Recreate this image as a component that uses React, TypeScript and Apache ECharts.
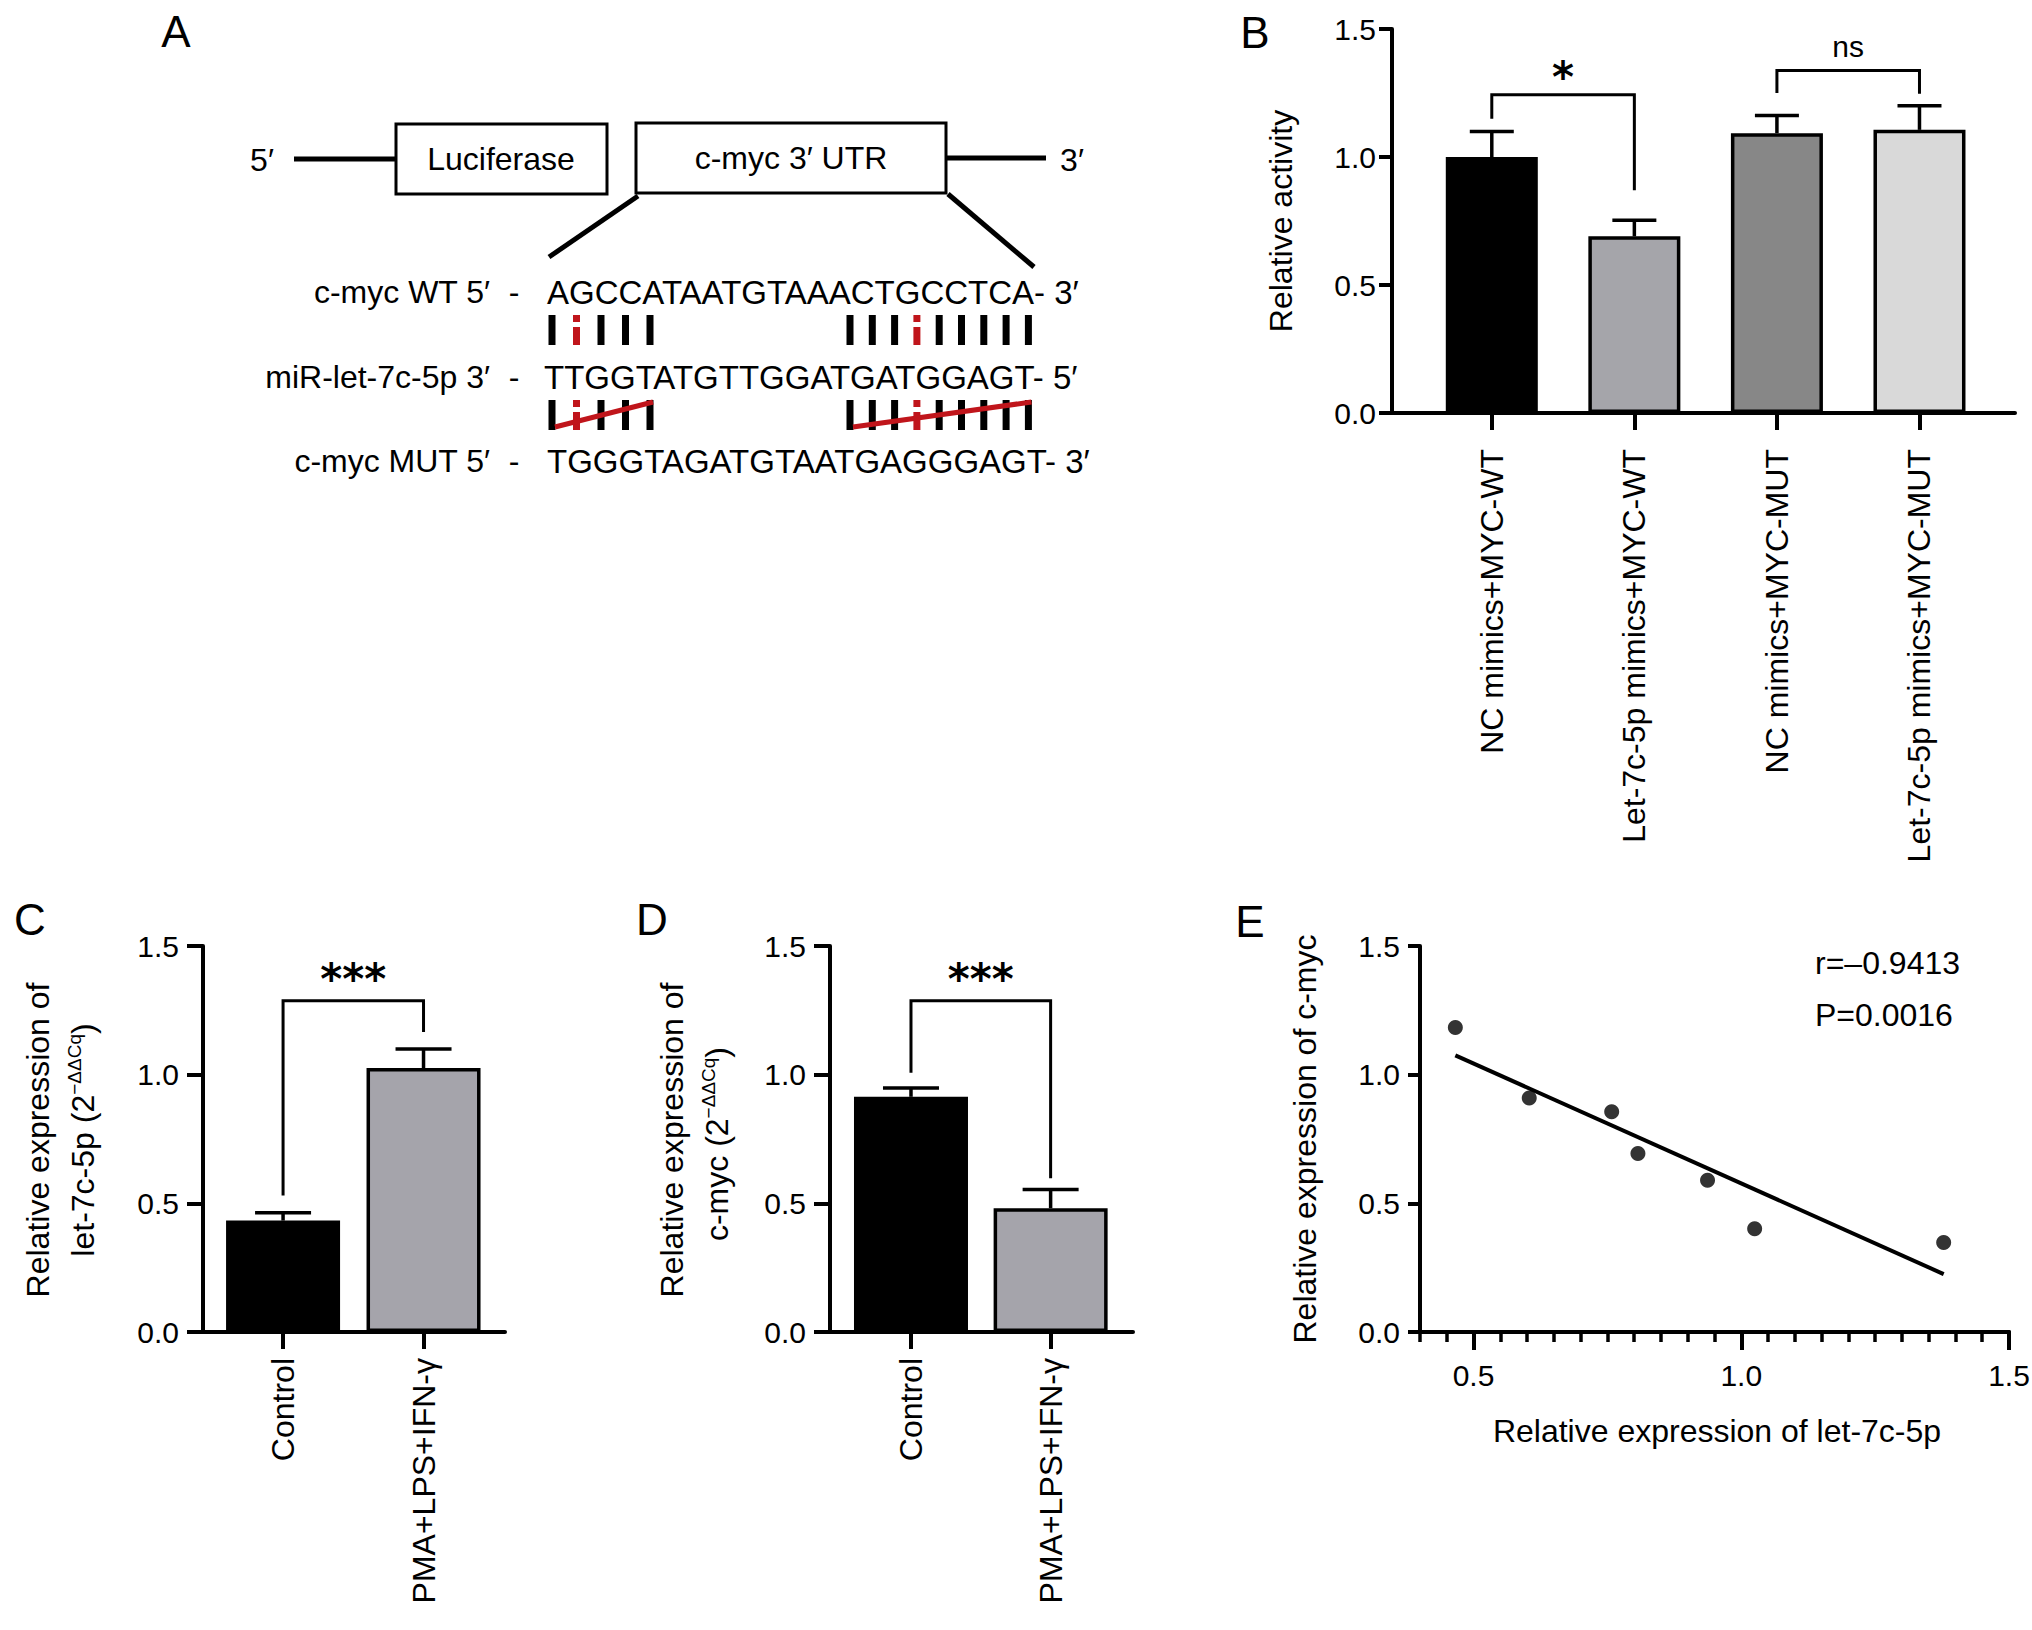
import React, { useEffect, useRef } from 'react';
import * as echarts from 'echarts';

const W = 2032;
const H = 1630;
const FONT = '"Liberation Sans", Arial, Helvetica, sans-serif';
const STAR_FONT = '"DejaVu Sans", "Liberation Sans", sans-serif';

// ---------- Panel A (schematic) ----------
const aSeqLabels = ['c-myc WT 5′', 'miR-let-7c-5p 3′', 'c-myc MUT 5′'];
const aSequences = ['AGCCATAATGTAAACTGCCTCA- 3′', 'TTGGTATGTTGGATGATGGAGT- 5′', 'TGGGTAGATGTAATGAGGGAGT- 3′'];
const aBoxLabels = ['Luciferase', 'c-myc 3′ UTR'];
const aPairCounts = [5, 9];
const aWobbleIndex = [1, 3];

// ---------- Panel B ----------
const bCategories = ['NC mimics+MYC-WT', 'Let-7c-5p mimics+MYC-WT', 'NC mimics+MYC-MUT', 'Let-7c-5p mimics+MYC-MUT'];
const bMeans = [1.0, 0.69, 1.093, 1.106];
const bErrTops = [1.10, 0.753, 1.162, 1.20];
const bColors = ['#000000', '#a5a5aa', '#878787', '#d9d9d9'];
const bBrackets = [[0, 1, 1.243, 1.149, 0.87], [2, 3, 1.338, 1.25, 1.247]];
const bSigLabels = ['*', 'ns'];
const bSigY = [1.31, 1.43];

// ---------- Panels C & D ----------
const cdCategories = ['Control', 'PMA+LPS+IFN-γ'];
const cdColors = ['#000000', '#a5a4ab'];
const cMeans = [0.433, 1.026];
const cErrTops = [0.463, 1.10];
const cBrackets = [[0, 1, 1.287, 0.53, 1.166]];
const dMeans = [0.914, 0.481];
const dErrTops = [0.948, 0.554];
const dBrackets = [[0, 1, 1.287, 1.007, 0.597]];
const cdSigLabels = ['***'];
const cdSigY = [1.37];

// ---------- Panel E ----------
const eX = [0.466, 0.604, 0.758, 0.807, 0.937, 1.025, 1.378];
const eY = [1.183, 0.909, 0.856, 0.694, 0.590, 0.401, 0.348];
const eFit = [[0.466, 1.075], [1.378, 0.225]];
const eStats = ['r=–0.9413', 'P=0.0016'];
const eXTicks = [0.5, 1.0, 1.5];

const yMin = 0;
const yMax = 1.5;
const yInterval = 0.5;

function txt(x: number, y: number, text: string, opts: any = {}) {
  return {
    type: 'text',
    x,
    y,
    rotation: opts.rotation || 0,
    silent: true,
    style: {
      text,
      fill: opts.fill || '#000',
      fontSize: opts.fontSize || 32,
      fontFamily: opts.fontFamily || FONT,
      fontWeight: opts.fontWeight || 'normal',
      align: opts.align || 'center',
      verticalAlign: opts.verticalAlign || 'middle',
      textAlign: opts.align || 'center',
      textVerticalAlign: opts.verticalAlign || 'middle',
      rich: opts.rich,
    },
  };
}

function ln(x1: number, y1: number, x2: number, y2: number, w: number, color = '#000') {
  return {
    type: 'line',
    silent: true,
    shape: { x1, y1, x2, y2 },
    style: { stroke: color, lineWidth: w },
  };
}

function buildPanelA(): any[] {
  const g: any[] = [];
  const RED = '#c0151b';
  // backbone
  g.push(ln(294, 159, 396, 159, 5));
  g.push(ln(946, 158, 1046, 158, 5));
  g.push({ type: 'rect', silent: true, shape: { x: 396, y: 124, width: 211, height: 70 }, style: { fill: '#fff', stroke: '#000', lineWidth: 3 } });
  g.push({ type: 'rect', silent: true, shape: { x: 636, y: 123, width: 310, height: 70 }, style: { fill: '#fff', stroke: '#000', lineWidth: 3 } });
  g.push(txt(501, 159, aBoxLabels[0], { fontSize: 32 }));
  g.push(txt(791, 158, aBoxLabels[1], { fontSize: 32 }));
  g.push(txt(262, 160, '5′', { fontSize: 32 }));
  g.push(txt(1072, 160, '3′', { fontSize: 32 }));
  // zoom lines
  g.push(ln(638, 196, 549, 257, 5));
  g.push(ln(948, 194, 1034, 267, 5));
  // sequences
  const rowY = [292, 377, 461];
  const seqX = [547, 544, 547];
  for (let i = 0; i < 3; i++) {
    g.push(txt(490, rowY[i], aSeqLabels[i], { align: 'right', fontSize: 32 }));
    g.push(txt(514, rowY[i], '-', { fontSize: 32 }));
    g.push(txt(seqX[i], rowY[i], aSequences[i], { align: 'left', fontSize: 33 }));
  }
  // pairing bars
  const groupStart = [552, 850];
  const groupPitch = [24.5, 22.3];
  const barRows = [[315, 345], [400, 430]];
  for (let r = 0; r < 2; r++) {
    const [y0, y1] = barRows[r];
    for (let gi = 0; gi < 2; gi++) {
      for (let k = 0; k < aPairCounts[gi]; k++) {
        const x = groupStart[gi] + k * groupPitch[gi];
        if (k === aWobbleIndex[gi]) {
          g.push(ln(x, y0, x, y0 + 7, 7, RED));
          g.push(ln(x, y0 + 12, x, y1, 7, RED));
        } else {
          g.push(ln(x, y0, x, y1, 7));
        }
      }
    }
  }
  // strike-through lines on mutant pairing
  for (let gi = 0; gi < 2; gi++) {
    const xs = groupStart[gi] + 3;
    const xe = groupStart[gi] + (aPairCounts[gi] - 1) * groupPitch[gi] + 3;
    g.push(ln(xs, 427, xe, 402, 5, RED));
  }
  g.push(txt(176, 31, 'A', { fontSize: 44 }));
  return g;
}

function valueYAxis(gridIndex: number, margin: number, tickLen: number, fontFamily = FONT, fontSize = 30) {
  return {
    type: 'value',
    gridIndex,
    position: 'left',
    min: yMin,
    max: yMax,
    interval: yInterval,
    axisLine: { show: true, onZero: false, lineStyle: { color: '#000', width: 4 } },
    axisTick: { show: true, inside: false, length: tickLen, lineStyle: { color: '#000', width: 4 } },
    axisLabel: { show: true, color: '#000', fontSize, fontFamily, margin, formatter: (v: number) => v.toFixed(1) },
    splitLine: { show: false },
  };
}

function catXAxis(gridIndex: number, min: number, max: number, cats: string[], margin: number, tickLen: number) {
  const idx = cats.map((_, i) => i);
  return {
    type: 'value',
    gridIndex,
    position: 'bottom',
    min,
    max,
    axisLine: { show: true, onZero: false, lineStyle: { color: '#000', width: 4 } },
    axisTick: { show: true, length: tickLen, customValues: idx, lineStyle: { color: '#000', width: 4 } },
    axisLabel: {
      show: true,
      customValues: idx,
      rotate: 90,
      margin,
      color: '#000',
      fontSize: 32,
      fontFamily: FONT,
      formatter: (v: number) => cats[Math.round(v)] || '',
    },
    splitLine: { show: false },
  };
}

function barSeries(xi: number, yi: number, means: number[], colors: string[], width: number) {
  return {
    type: 'bar',
    xAxisIndex: xi,
    yAxisIndex: yi,
    barWidth: width,
    silent: true,
    data: means.map((m, i) => ({
      value: [i, m],
      itemStyle: { color: colors[i], borderColor: '#000', borderWidth: 3.5 },
    })),
    z: 2,
  };
}

function errSeries(xi: number, yi: number, means: number[], tops: number[], capHalf: number) {
  return {
    type: 'custom',
    xAxisIndex: xi,
    yAxisIndex: yi,
    silent: true,
    z: 3,
    data: means.map((m, i) => [i, m, tops[i]]),
    encode: { x: 0, y: [1, 2] },
    renderItem: (params: any, api: any) => {
      const x = api.value(0);
      const p0 = api.coord([x, api.value(1)]);
      const p1 = api.coord([x, api.value(2)]);
      return {
        type: 'group',
        children: [
          { type: 'line', shape: { x1: p0[0], y1: p0[1], x2: p1[0], y2: p1[1] }, style: { stroke: '#000', lineWidth: 3.5 } },
          { type: 'line', shape: { x1: p1[0] - capHalf, y1: p1[1], x2: p1[0] + capHalf, y2: p1[1] }, style: { stroke: '#000', lineWidth: 3.5 } },
        ],
      };
    },
  };
}

function bracketSeries(xi: number, yi: number, brackets: number[][], labels: string[], labelY: number[], labelStyle: (l: string) => any) {
  return {
    type: 'custom',
    xAxisIndex: xi,
    yAxisIndex: yi,
    silent: true,
    z: 4,
    data: brackets.map((b, i) => [...b, labelY[i]]),
    encode: { x: [0, 1], y: [2, 3, 4] },
    renderItem: (params: any, api: any) => {
      const x1 = api.value(0);
      const x2 = api.value(1);
      const top = api.value(2);
      const pA = api.coord([x1, api.value(3)]);
      const pB = api.coord([x1, top]);
      const pC = api.coord([x2, top]);
      const pD = api.coord([x2, api.value(4)]);
      const pT = api.coord([(x1 + x2) / 2, api.value(5)]);
      const label = labels[params.dataIndex];
      return {
        type: 'group',
        children: [
          { type: 'polyline', shape: { points: [pA, pB, pC, pD] }, style: { stroke: '#000', lineWidth: 3, fill: 'none' } },
          {
            type: 'text',
            x: pT[0],
            y: pT[1],
            style: { text: label, fill: '#000', align: 'center', verticalAlign: 'middle', ...labelStyle(label) },
          },
        ],
      };
    },
  };
}

const sigStyle = (l: string) =>
  l === 'ns'
    ? { fontSize: 30, fontFamily: FONT, fontWeight: 'normal' }
    : { fontSize: 42, fontFamily: STAR_FONT, fontWeight: 'bold' };

function buildOption() {
  const supRich = {
    n: { fontSize: 32, fontFamily: FONT, fill: '#000', color: '#000', lineHeight: 36 },
    s: { fontSize: 19, fontFamily: FONT, fill: '#000', color: '#000', verticalAlign: 'top', lineHeight: 36 },
  };
  const graphics: any[] = [
    ...buildPanelA(),
    txt(1255, 32, 'B', { fontSize: 44 }),
    txt(30, 919, 'C', { fontSize: 44 }),
    txt(652, 919, 'D', { fontSize: 44 }),
    txt(1250, 921, 'E', { fontSize: 44 }),
    // axis titles
    txt(1281, 221, 'Relative activity', { rotation: Math.PI / 2, fontSize: 32 }),
    txt(38, 1140, 'Relative expression of', { rotation: Math.PI / 2, fontSize: 32 }),
    txt(83, 1140, '{n|let-7c-5p (2}{s|−ΔΔCq}{n|)}', { rotation: Math.PI / 2, rich: supRich }),
    txt(672, 1140, 'Relative expression of', { rotation: Math.PI / 2, fontSize: 32 }),
    txt(717, 1144, '{n|c-myc (2}{s|−ΔΔCq}{n|)}', { rotation: Math.PI / 2, rich: supRich }),
    txt(1305, 1139, 'Relative expression of c-myc', { rotation: Math.PI / 2, fontSize: 32 }),
    txt(1717, 1431, 'Relative expression of let-7c-5p', { fontSize: 32 }),
    txt(1815, 963, eStats[0], { align: 'left', fontSize: 32 }),
    txt(1815, 1015, eStats[1], { align: 'left', fontSize: 32 }),
  ];

  return {
    animation: false,
    backgroundColor: '#ffffff',
    grid: [
      { left: 1392, top: 29, width: 623, height: 384, containLabel: false, outerBoundsMode: 'none' },
      { left: 203, top: 946, width: 302, height: 386, containLabel: false, outerBoundsMode: 'none' },
      { left: 830, top: 946, width: 303, height: 386, containLabel: false, outerBoundsMode: 'none' },
      { left: 1420, top: 946, width: 589, height: 386, containLabel: false, outerBoundsMode: 'none' },
    ],
    xAxis: [
      catXAxis(0, -0.7, 3.67, bCategories, 36, 17),
      catXAxis(1, -0.57, 1.58, cdCategories, 26, 17),
      catXAxis(2, -0.58, 1.59, cdCategories, 26, 17),
      {
        type: 'value',
        gridIndex: 3,
        position: 'bottom',
        min: 0.4,
        max: 1.5,
        interval: 0.05,
        axisLine: { show: true, onZero: false, lineStyle: { color: '#000', width: 4 } },
        axisTick: { show: true, length: 10, lineStyle: { color: '#000', width: 3.5 } },
        axisLabel: { show: false },
        splitLine: { show: false },
      },
      {
        type: 'value',
        gridIndex: 3,
        position: 'bottom',
        offset: 0,
        min: 0.4,
        max: 1.5,
        axisLine: { show: true, onZero: false, lineStyle: { color: '#000', width: 4 } },
        axisTick: { show: true, length: 18, customValues: eXTicks, lineStyle: { color: '#000', width: 4 } },
        axisLabel: {
          show: true,
          customValues: eXTicks,
          margin: 28,
          color: '#000',
          fontSize: 30,
          fontFamily: FONT,
          formatter: (v: number) => v.toFixed(1),
        },
        splitLine: { show: false },
      },
    ],
    yAxis: [
      valueYAxis(0, 16, 13),
      valueYAxis(1, 24, 16),
      valueYAxis(2, 24, 16),
      valueYAxis(3, 20, 12),
    ],
    series: [
      barSeries(0, 0, bMeans, bColors, 92),
      errSeries(0, 0, bMeans, bErrTops, 22),
      bracketSeries(0, 0, bBrackets, bSigLabels, bSigY, sigStyle),
      barSeries(1, 1, cMeans, cdColors, 114),
      errSeries(1, 1, cMeans, cErrTops, 28),
      bracketSeries(1, 1, cBrackets, cdSigLabels, cdSigY, sigStyle),
      barSeries(2, 2, dMeans, cdColors, 114),
      errSeries(2, 2, dMeans, dErrTops, 28),
      bracketSeries(2, 2, dBrackets, cdSigLabels, cdSigY, sigStyle),
      {
        type: 'scatter',
        xAxisIndex: 4,
        yAxisIndex: 3,
        symbol: 'circle',
        symbolSize: 15,
        silent: true,
        itemStyle: { color: '#000' },
        data: eX.map((x, i) => [x, eY[i]]),
        z: 3,
      },
      {
        type: 'line',
        xAxisIndex: 4,
        yAxisIndex: 3,
        symbol: 'none',
        silent: true,
        lineStyle: { color: '#000', width: 4 },
        data: eFit,
        z: 2,
      },
    ],
    graphic: graphics,
  };
}

export default function App() {
  const ref = useRef<HTMLDivElement>(null);
  useEffect(() => {
    if (!ref.current) return;
    const chart = echarts.init(ref.current, null, { renderer: 'svg', width: W, height: H });
    chart.setOption(buildOption() as any);
    return () => chart.dispose();
  }, []);
  return (
    <div
      ref={ref}
      style={{ width: W, height: H, position: 'absolute', left: 0, top: 0, background: '#fff' }}
    />
  );
}
